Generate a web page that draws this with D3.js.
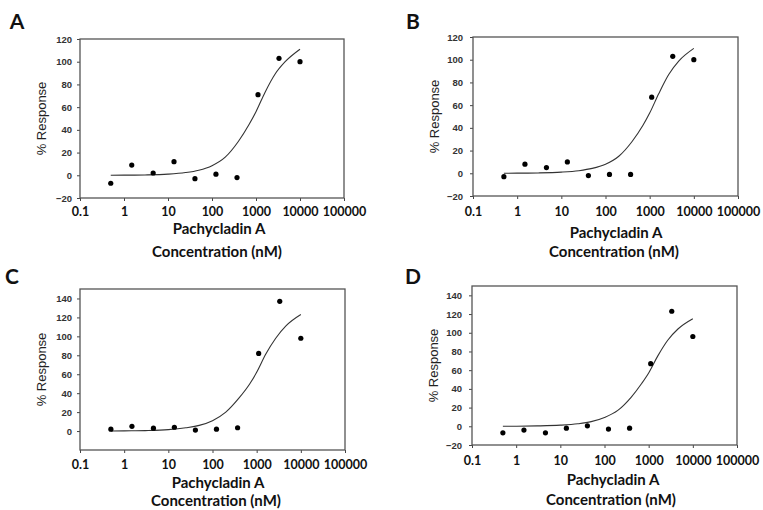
<!DOCTYPE html>
<html>
<head>
<meta charset="utf-8">
<script src="https://cdn.jsdelivr.net/npm/d3@7"></script>
<style>
  body { margin: 0; background: #fff; }
  svg { display: block; }
</style>
</head>
<body>
<svg id="chart"></svg>
<script>
var width = 763;
var height = 510;

// ---- data -------------------------------------------------------------
var conc = [0.5, 1.5, 4.6, 13.7, 41, 123, 370, 1111, 3333, 10000];
var respA = [-7, 9, 2, 12, -3, 1, -2, 71, 103, 100];
var respB = [-3, 8, 5, 10, -2, -1, -1, 67, 103, 100];
var respC = [2, 5, 3, 4, 1, 2, 3.5, 82, 137, 98];
var respD = [-7, -4, -7, -2, 0.5, -3, -2, 67, 123, 96];

// fitted curve
var fitConc = [0.5, 1, 3, 10, 25, 50, 100, 200, 400, 700, 1000, 1600, 2700, 4600, 10000];
var fitA = [0, 0.1, 0.3, 1, 2.4, 4.5, 8.5, 16, 30, 45, 56, 73, 89, 100, 111];
var fitB = [0, 0.1, 0.3, 1, 2.3, 4.3, 8, 15, 28, 42, 53, 70, 87, 99, 110];
var fitC = [0, 0.2, 0.5, 1.5, 3.5, 6, 11, 20, 35, 50, 62, 81, 98, 111, 123];
var fitD = [0, 0.1, 0.4, 1.2, 2.7, 5, 9.5, 17, 31, 46, 57, 75, 92, 104, 115];

var xTicks = [0.1, 1, 10, 100, 1000, 10000, 100000];
var yTicksAB = [-20, 0, 20, 40, 60, 80, 100, 120];
var yTicksC = [0, 20, 40, 60, 80, 100, 120, 140];
var yTicksD = [-20, 0, 20, 40, 60, 80, 100, 120, 140];

// ---- layout -----------------------------------------------------------
var panels = [
  {letter: "A", resp: respA, fit: fitA, yDom: [-20, 120], yTicks: yTicksAB,
   l: 80, r: 344, t: 39, b: 198, lx: 17, ly: 29, tickY: 216, t1: 234, t2: 257, tx: 219, ylab: 8},
  {letter: "B", resp: respB, fit: fitB, yDom: [-20, 120], yTicks: yTicksAB,
   l: 473, r: 738, t: 37, b: 196, lx: 413, ly: 29, tickY: 216, t1: 238, t2: 257, tx: 616, ylab: 10},
  {letter: "C", resp: respC, fit: fitC, yDom: [-20, 150], yTicks: yTicksC,
   l: 80, r: 345, t: 289, b: 450, lx: 12, ly: 284, tickY: 469, t1: 488, t2: 506, tx: 218, ylab: 8},
  {letter: "D", resp: respD, fit: fitD, yDom: [-20, 150], yTicks: yTicksD,
   l: 472, r: 737, t: 286, b: 445, lx: 413, ly: 284, tickY: 465, t1: 485, t2: 505, tx: 613, ylab: 10}
];

var svg = d3.select("#chart")
    .attr("width", width)
    .attr("height", height);

svg.append("rect").attr("width", width).attr("height", height).attr("fill", "#fff");

var fmt = function(d) { return d < 1 ? "0.1" : String(d); };

panels.forEach(function(p) {
  var x = d3.scaleLog().domain([0.1, 100000]).range([p.l, p.r]);
  var y = d3.scaleLinear().domain(p.yDom).range([p.b, p.t]);
  var g = svg.append("g");

  // x axis
  var xa = g.append("g")
      .attr("transform", "translate(0," + p.b + ")")
      .call(d3.axisBottom(x).tickValues(xTicks).tickFormat(fmt).tickSize(3).tickPadding(4));
  xa.select(".domain").remove();
  xa.selectAll(".tick line").attr("stroke", "#444");
  xa.selectAll("text")
      .attr("y", null).attr("dy", null)
      .attr("transform", "translate(0," + (p.tickY - p.b) + ")")
      .attr("font-family", "Lato, 'Open Sans', sans-serif")
      .attr("font-weight", "bold")
      .attr("font-size", 12.5)
      .attr("fill", "#111");

  // y axis
  var ya = g.append("g")
      .attr("transform", "translate(" + p.l + ",0)")
      .call(d3.axisLeft(y).tickValues(p.yTicks).tickSize(3).tickPadding(p.ylab - 3));
  ya.select(".domain").remove();
  ya.selectAll(".tick line").attr("stroke", "#444");
  ya.selectAll("text")
      .attr("font-family", "'Liberation Sans', Arial, sans-serif")
      .attr("font-weight", "bold")
      .attr("font-size", 9.5)
      .attr("fill", "#333");

  // frame
  g.append("rect")
      .attr("x", p.l).attr("y", p.t)
      .attr("width", p.r - p.l).attr("height", p.b - p.t)
      .attr("fill", "none")
      .attr("stroke", "#555")
      .attr("stroke-width", 1.3);

  // fitted curve
  var line = d3.line()
      .x(function(d, i) { return x(fitConc[i]); })
      .y(function(d) { return y(d); })
      .curve(d3.curveMonotoneX);
  g.append("path")
      .datum(p.fit)
      .attr("d", line)
      .attr("fill", "none")
      .attr("stroke", "#333")
      .attr("stroke-width", 1.1);

  // points
  g.selectAll("circle.pt")
      .data(p.resp)
      .enter().append("circle")
      .attr("class", "pt")
      .attr("cx", function(d, i) { return x(conc[i]); })
      .attr("cy", function(d) { return y(d); })
      .attr("r", 2.6)
      .attr("fill", "#000");

  // titles
  g.append("text")
      .attr("x", p.tx).attr("y", p.t1)
      .attr("text-anchor", "middle")
      .attr("font-family", "Lato, 'Open Sans', sans-serif")
      .attr("font-weight", "bold")
      .attr("font-size", 15)
      .attr("fill", "#111")
      .text("Pachycladin A");
  g.append("text")
      .attr("x", p.tx - 2).attr("y", p.t2)
      .attr("text-anchor", "middle")
      .attr("font-family", "Lato, 'Open Sans', sans-serif")
      .attr("font-weight", "bold")
      .attr("font-size", 15)
      .attr("fill", "#111")
      .text("Concentration (nM)");

  g.append("text")
      .attr("transform", "translate(" + (p.l - 34) + "," + ((p.t + p.b) / 2) + ") rotate(-90)")
      .attr("text-anchor", "middle")
      .attr("font-family", "'Liberation Sans', Arial, sans-serif")
      .attr("font-size", 13)
      .attr("fill", "#222")
      .text("% Response");

  g.append("text")
      .attr("x", p.lx).attr("y", p.ly)
      .attr("text-anchor", "middle")
      .attr("font-family", "Lato, 'Open Sans', sans-serif")
      .attr("font-weight", "bold")
      .attr("font-size", 21)
      .attr("fill", "#111")
      .text(p.letter);
});
</script>
</body>
</html>
